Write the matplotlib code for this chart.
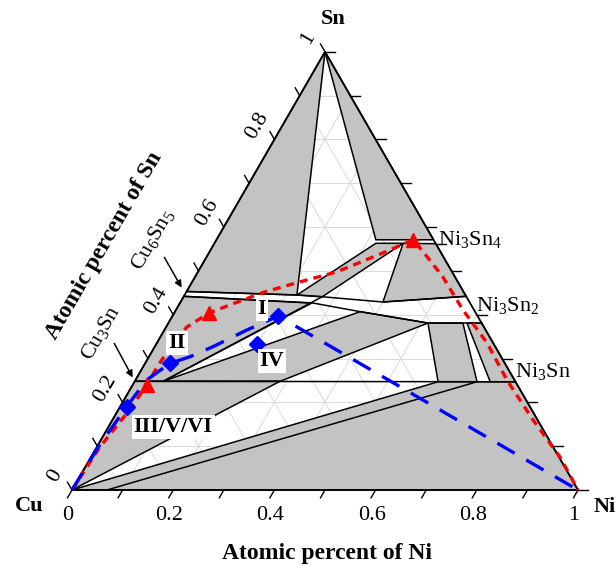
import numpy as np
import matplotlib.pyplot as plt

plt.rcParams['font.family'] = ['Liberation Serif', 'DejaVu Serif']
plt.rcParams['mathtext.fontset'] = 'custom'
plt.rcParams['mathtext.rm'] = 'Liberation Serif'

# compositions as (Ni fraction, Sn fraction)
sn_cu6sn5 = [(0, 1), (0, 0.453), (0.222, 0.445)]
sn_ni3sn4 = [(0, 1), (0.315, 0.571), (0.429, 0.571)]
ni3sn4_cu6sn5 = [(0.319, 0.563), (0.373, 0.563), (0.274, 0.441), (0.222, 0.445)]
ni3sn4_ni3sn2 = [(0.373, 0.563), (0.438, 0.562), (0.558, 0.442), (0.400, 0.429)]
cu6sn5_cu3sn = [(0, 0.442), (0.261, 0.427), (0.056, 0.248), (0, 0.248)]
ni3sn2_cu3sn = [(0.056, 0.248), (0.366, 0.407), (0.513, 0.381), (0.287, 0.248)]
cu_cu3sn = [(0, 0), (0, 0.248), (0.287, 0.248)]
ni3sn2_ni3sn_a = [(0.513, 0.381), (0.582, 0.381), (0.677, 0.247), (0.600, 0.247)]
ni3sn2_ni3sn_b = [(0.590, 0.381), (0.619, 0.381), (0.753, 0.247), (0.703, 0.247)]
ni_rich = [(0, 0), (0.600, 0.247), (0.753, 0.247), (1, 0)]
gray_regions = [sn_cu6sn5, sn_ni3sn4, ni3sn4_cu6sn5, ni3sn4_ni3sn2, cu6sn5_cu3sn,
                ni3sn2_cu3sn, cu_cu3sn, ni3sn2_ni3sn_a, ni3sn2_ni3sn_b, ni_rich]

# extra phase boundaries
line_cu6sn5_top = [(0, 0.453), (0.222, 0.445), (0.274, 0.441), (0.400, 0.429), (0.558, 0.442)]
line_cu6sn5_bot = [(0, 0.442), (0.251, 0.427), (0.261, 0.427), (0.366, 0.407), (0.513, 0.381), (0.619, 0.381)]
line_cu3sn = [(0, 0.248), (0.753, 0.247)]
line_tie1 = [(0.056, 0.248), (0.274, 0.441)]
line_tie2 = [(0.069, 0), (0.677, 0.247)]

# diffusion paths
red_path = [(0, 0), (0.006, 0.098), (0.021, 0.176), (0.028, 0.240), (0.028, 0.281), (0.032, 0.336),
            (0.041, 0.372), (0.069, 0.404), (0.109, 0.427), (0.155, 0.452), (0.208, 0.473),
            (0.275, 0.498), (0.344, 0.541), (0.389, 0.571), (0.436, 0.532), (0.490, 0.486),
            (0.567, 0.411), (0.652, 0.336), (0.734, 0.251), (0.831, 0.160), (0.927, 0.075), (1, 0)]
red_marks = [(0.028, 0.240), (0.069, 0.404), (0.389, 0.571)]
blue_path = [(0, 0), (0.003, 0.100), (0.013, 0.190), (0.022, 0.251), (0.049, 0.289), (0.081, 0.304),
             (0.115, 0.327), (0.163, 0.365), (0.209, 0.397), (1, 0)]
blue_marks = [(0.013, 0.190), (0.049, 0.289), (0.209, 0.397), (0.199, 0.333)]

ticks = np.round(np.arange(0, 1.01, 0.1), 1)
tick_labels = ['0', '0.2', '0.4', '0.6', '0.8', '1']


def tern(pts):
    p = np.asarray(pts, dtype=float)
    return p[:, 0] + p[:, 1] / 2, p[:, 1] * np.sqrt(3) / 2


def pix(x, y):
    return (x - 72) / 506, (490 - y) / 506


fig = plt.figure(figsize=(6.16, 5.66), dpi=100)
ax = fig.add_axes([0, 0, 1, 1])
ax.set_xlim(-72 / 506, 544 / 506)
ax.set_ylim(-76 / 506, 490 / 506)
ax.axis('off')

# grid
for v in ticks[1:-1]:
    for a, b in [((0, v), (1 - v, v)), ((v, 0), (v, 1 - v)), ((v, 0), (0, v))]:
        x, y = tern([a, b])
        ax.plot(x, y, color='#d9d9d9', lw=0.7, zorder=1)

for poly in gray_regions:
    x, y = tern(poly)
    ax.fill(x, y, facecolor='#c3c3c3', edgecolor='black', lw=1.1, zorder=2)

for ln in [line_cu6sn5_top, line_cu6sn5_bot, line_cu3sn, line_tie1, line_tie2]:
    x, y = tern(ln)
    ax.plot(x, y, color='black', lw=1.1, zorder=3)

# triangle frame
x, y = tern([(0, 0), (1, 0), (0, 1), (0, 0)])
ax.plot(x, y, color='black', lw=1.3, zorder=5)

L = 9 / 506
for v in ticks:
    x, y = tern([(v, 0)])
    ax.plot([x[0], x[0] - 0.5 * L], [y[0], y[0] - 0.866 * L], color='black', lw=1.0)
    x, y = tern([(0, v)])
    ax.plot([x[0], x[0] - 0.5 * L], [y[0], y[0] + 0.866 * L], color='black', lw=1.0)
    x, y = tern([(1 - v, v)])
    ax.plot([x[0], x[0] + 1.1 * L], [y[0], y[0]], color='black', lw=1.0)
x, y = tern([(0.438, 0.562)])
ax.plot([x[0], x[0] + 1.1 * L], [y[0], y[0]], color='black', lw=1.0)

for v, lab in zip(ticks[::2], tick_labels):
    x, y = tern([(v, 0)])
    ax.text(x[0] - 4 / 506, -26 / 506, lab, ha='center', va='center', fontsize=16)
    x, y = tern([(0, v)])
    ax.text(x[0] - 17 / 506, y[0] + 14 / 506, lab, ha='center', va='center', fontsize=16, rotation=60)

# paths
x, y = tern(red_path)
ax.plot(x, y, color='red', lw=2.4, ls=(0, (2.4, 1.8)), zorder=6)
x, y = tern(blue_path)
ax.plot(x, y, color='blue', lw=2.4, ls=(0, (6, 4)), zorder=6)
x, y = tern(red_marks)
ax.plot(x, y, ls='none', marker='^', ms=10, color='red', zorder=7)
x, y = tern(blue_marks)
ax.plot(x, y, ls='none', marker='D', ms=8, color='blue', zorder=7)

box = dict(facecolor='white', edgecolor='none', pad=1.5)
for s, (px_, py_) in [('I', (262, 309)), ('II', (177, 343)), ('IV', (272, 361)), ('III/V/VI', (173, 427))]:
    ax.text(*pix(px_, py_), s, ha='center', va='center', fontsize=16, fontweight='bold', bbox=box, zorder=8)

ax.text(*pix(333, 19), 'Sn', ha='center', va='center', fontsize=16, fontweight='bold')
ax.text(*pix(29, 506), 'Cu', ha='center', va='center', fontsize=16, fontweight='bold')
ax.text(*pix(594, 507), 'Ni', ha='left', va='center', fontsize=16, fontweight='bold')
ax.text(*pix(327, 553), 'Atomic percent of Ni', ha='center', va='center', fontsize=17, fontweight='bold')
ax.text(*pix(104, 246), 'Atomic percent of Sn', ha='center', va='center', fontsize=17,
        fontweight='bold', rotation=60)

ax.text(*pix(470, 240), r'$\mathrm{Ni_3Sn_4}$', ha='center', va='center', fontsize=16)
ax.text(*pix(508, 306), r'$\mathrm{Ni_3Sn_2}$', ha='center', va='center', fontsize=16)
ax.text(*pix(543, 371), r'$\mathrm{Ni_3Sn}$', ha='center', va='center', fontsize=16)
ax.text(*pix(153, 240), r'$\mathrm{Cu_6Sn_5}$', ha='center', va='center', fontsize=16, rotation=60)
ax.text(*pix(101, 333), r'$\mathrm{Cu_3Sn}$', ha='center', va='center', fontsize=16, rotation=60)
ax.annotate('', xy=pix(183, 290), xytext=pix(163, 255),
            arrowprops=dict(arrowstyle='-|>', color='black', lw=1.1, mutation_scale=10))
ax.annotate('', xy=pix(134, 380), xytext=pix(113, 341),
            arrowprops=dict(arrowstyle='-|>', color='black', lw=1.1, mutation_scale=10))

fig.savefig('out.png', dpi=100)
